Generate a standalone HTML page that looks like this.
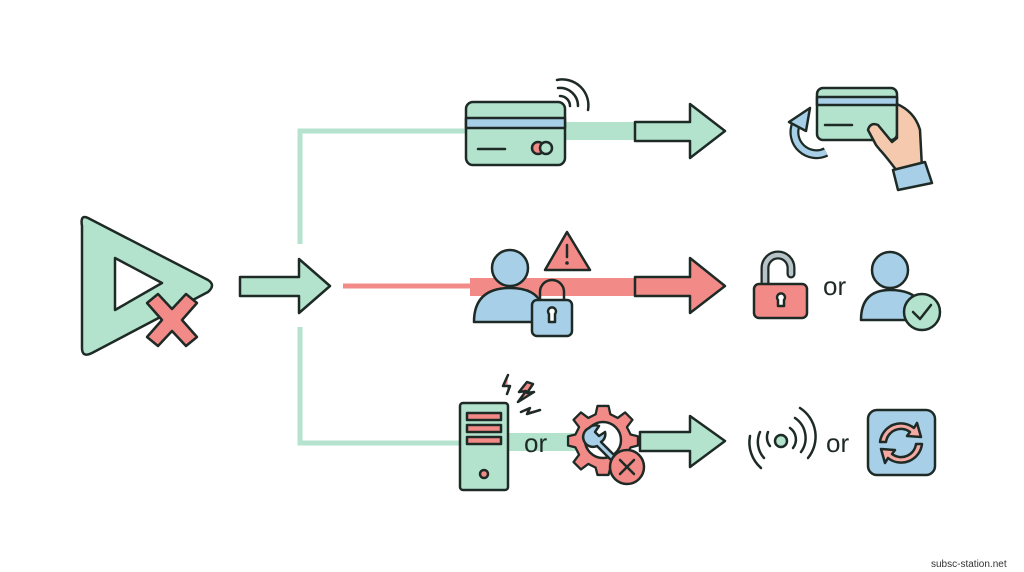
<!DOCTYPE html>
<html><head><meta charset="utf-8"><style>
html,body{margin:0;padding:0;background:#fff;width:1024px;height:572px;overflow:hidden}
svg{display:block}
text{font-family:"Liberation Sans",sans-serif}
</style></head><body>
<svg width="1024" height="572" viewBox="0 0 1024 572" xmlns="http://www.w3.org/2000/svg">
<defs><style>.s{stroke:#1e2a26;stroke-width:2.5;stroke-linejoin:round;stroke-linecap:round}</style></defs>
<rect width="1024" height="572" fill="#fff"/>
<g fill="none" stroke="#b5e3cf" stroke-width="5">
<polyline points="300,244 300,131 470,131"/>
<polyline points="300,327 300,443 470,443"/>
</g>
<line x1="343" y1="286" x2="472" y2="286" stroke="#f28b87" stroke-width="5"/>
<path class="s" d="M88,218 Q80,214 82,226 L82,348 Q82,358 92,353 L208,292 Q216,285 208,280 Z" fill="#b3e3cd"/>
<path class="s" d="M115,258 L162,283 L115,310 Z" fill="#fff"/>
<path class="s" d="M147,303 L158,294 L172,309 L186,294 L197,303 L182,320 L197,337 L186,346 L172,331 L158,346 L147,337 L162,320 Z" fill="#f28b87"/>
<path class="s" d="M240,277 L299,277 L299,259 L330,286 L299,313 L299,296 L240,296 Z" fill="#b3e3cd"/>
<!-- top row -->
<rect x="565" y="122" width="72" height="18" fill="#b3e3cd"/>
<rect class="s" x="466" y="102" width="99" height="63" rx="7" fill="#b3e3cd"/>
<rect class="s" x="466" y="118" width="99" height="10" fill="#a8cfe8"/>
<line class="s" x1="478" y1="149" x2="505" y2="149"/>
<circle class="s" cx="538" cy="148" r="6" fill="#f28b87"/>
<circle class="s" cx="546" cy="148" r="6" fill="#b3e3cd"/>
<g fill="none" class="s"><path d="M560,96 A10,10 0 0 1 570,106"/><path d="M558,88 A18,18 0 0 1 578,106"/><path d="M557,80 A26,26 0 0 1 588,110"/></g>
<path class="s" d="M635,122 L690,122 L690,104 L725,131 L690,158 L690,141 L635,141 Z" fill="#b3e3cd"/>
<path d="M826,152 A22,22 0 0 1 796,124" fill="none" stroke="#1e2a26" stroke-width="10" stroke-linecap="butt"/>
<path d="M826,152 A22,22 0 0 1 796,124" fill="none" stroke="#a8cfe8" stroke-width="5.5" stroke-linecap="butt"/>
<path class="s" d="M789,122 L810,108 L806,131 Z" fill="#a8cfe8"/>
<rect class="s" x="817" y="88" width="80" height="52" rx="6" fill="#b3e3cd"/>
<rect class="s" x="817" y="97" width="80" height="8" fill="#a8cfe8"/>
<line class="s" x1="825" y1="125" x2="852" y2="125"/>
<path class="s" d="M897,104 Q915,112 920,130 L922,168 L900,175 Q885,155 880,150 L876,145 L868,130 Q870,122 878,125 L892,142 L897,138 Z" fill="#f4c9ae"/>
<path class="s" d="M893,170 L925,162 L932,183 L898,190 Z" fill="#a8cfe8"/>
<!-- middle row -->
<rect x="470" y="278" width="167" height="18" fill="#f28b87"/>
<circle class="s" cx="510" cy="268" r="18" fill="#a8cfe8"/>
<path class="s" d="M474,322 Q474,288 510,288 Q536,288 542,305 L542,322 Z" fill="#a8cfe8"/>
<path class="s" d="M540,300 L540,292 A12,12 0 0 1 564,292 L564,300" fill="none"/>
<rect class="s" x="532" y="300" width="40" height="36" rx="5" fill="#a8cfe8"/>
<path class="s" d="M549,322 L549,314 A4,4 0 1 1 555,314 L555,322 Z" fill="#fff"/>
<path class="s" d="M567,232 L590,270 L545,270 Z" fill="#f28b87"/>
<line class="s" x1="567" y1="245" x2="567" y2="257" stroke-width="3"/><circle cx="567" cy="263" r="1.8" fill="#1e2a26"/>
<path class="s" d="M635,277 L690,277 L690,258 L725,286 L690,313 L690,296 L635,296 Z" fill="#f28b87"/>
<path d="M765,286 L765,268 A13,13 0 0 1 791,268 L791,274" fill="none" stroke="#1e2a26" stroke-width="9" stroke-linecap="round"/>
<path d="M765,286 L765,268 A13,13 0 0 1 791,268 L791,274" fill="none" stroke="#b8c4c8" stroke-width="4.5" stroke-linecap="round"/>
<rect class="s" x="754" y="284" width="53" height="34" rx="5" fill="#f28b87"/>
<path class="s" d="M778,306 L778,300 A4,4 0 1 1 784,300 L784,306 Z" fill="#fff"/>
<text x="823" y="295" font-size="26" fill="#1e2a26">or</text>
<circle class="s" cx="890" cy="270" r="18" fill="#a8cfe8"/>
<path class="s" d="M861,320 Q861,290 890,290 Q912,290 920,302 L920,320 Z" fill="#a8cfe8"/>
<circle class="s" cx="922" cy="312" r="18" fill="#b3e3cd"/>
<path class="s" d="M913,312 L920,319 L931,305" fill="none"/>
<!-- bottom row -->
<rect x="505" y="433" width="78" height="18" fill="#b3e3cd"/>
<rect class="s" x="460" y="403" width="48" height="87" rx="3" fill="#b3e3cd"/>
<rect class="s" x="467" y="413" width="34" height="7" fill="#f28b87"/>
<rect class="s" x="467" y="425" width="34" height="7" fill="#f28b87"/>
<rect class="s" x="467" y="437" width="34" height="7" fill="#f28b87"/>
<circle class="s" cx="484" cy="474" r="4" fill="#f28b87"/>
<g class="s" fill="#f28b87" stroke-width="1.5"><path d="M508,375 L503,386 L510,386 L507,394"/><path d="M527,382 L519,392 L526,391 L518,402 L534,392 L527,393 L533,384 Z"/><path d="M521,412 L530,408 L527,414 L540,410"/></g>
<text x="524" y="452" font-size="26" fill="#1e2a26">or</text>
<g transform="translate(603,440)">
<path class="s" fill="#f28b87" d="M-6,-35 L6,-35 L8,-26 L16,-22 L24,-28 L32,-20 L26,-12 L30,-4 L38,-2 L38,8 L30,10 L26,18 L32,26 L24,34 L16,28 L8,32 L6,40 L-6,40 L-8,32 L-16,28 L-24,34 L-32,26 L-26,18 L-30,10 L-38,8 L-38,-2 L-30,-4 L-26,-12 L-32,-20 L-24,-28 L-16,-22 L-8,-26 Z" transform="scale(0.92) translate(0,-2)"/>
<circle class="s" cx="0" cy="0" r="18" fill="#fff"/>
<path class="s" fill="#a8cfe8" d="M-14,-12 A9,9 0 0 1 -4,-14 L-8,-8 L-4,-4 L2,-8 A9,9 0 0 1 -2,2 L14,18 L10,22 L-6,6 A9,9 0 0 1 -14,-12 Z"/>
</g>
<circle class="s" cx="627" cy="467" r="17" fill="#f28b87"/>
<path class="s" d="M620,460 L634,474 M634,460 L620,474" fill="none"/>
<path class="s" d="M640,432 L690,432 L690,416 L725,441 L690,467 L690,451 L640,451 Z" fill="#b3e3cd"/>
<circle class="s" cx="781" cy="441" r="6" fill="#b3e3cd"/>
<g fill="none" class="s"><path d="M790,428 A14,14 0 0 1 793,448"/><path d="M795,418 A24,24 0 0 1 801,452"/><path d="M800,408 A34,34 0 0 1 808,458"/><path d="M770,446 A14,14 0 0 1 768,432"/><path d="M764,458 A24,24 0 0 1 760,432"/><path d="M761,468 A34,34 0 0 1 750,436"/></g>
<text x="826" y="452" font-size="26" fill="#1e2a26">or</text>
<rect class="s" x="868" y="410" width="67" height="65" rx="9" fill="#a8cfe8"/>
<g class="s" fill="#f4a9a3" stroke-width="2"><path d="M880,442 A21,21 0 0 1 914,428 L917,423 L921,437 L907,436 L910,432 A15,15 0 0 0 886,442 Z"/><path d="M922,444 A21,21 0 0 1 888,458 L885,463 L881,449 L895,450 L892,454 A15,15 0 0 0 916,444 Z"/></g>
<text x="931" y="567" font-size="10" fill="#333">subsc-station.net</text>
</svg>
</body></html>
